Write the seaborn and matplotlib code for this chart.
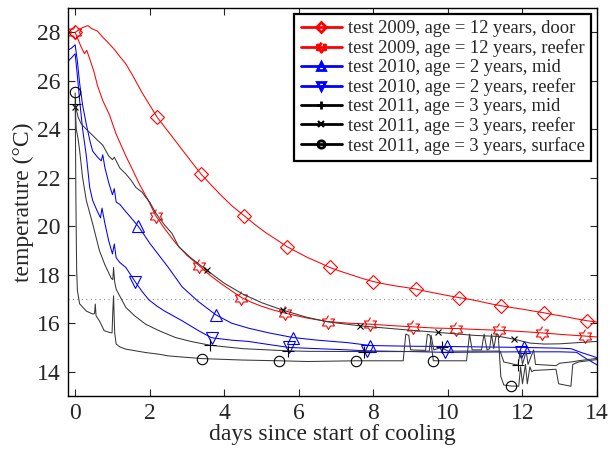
import numpy as np
import matplotlib
matplotlib.use('Agg')
import matplotlib.pyplot as plt
import seaborn as sns
from matplotlib.lines import Line2D
from matplotlib.path import Path

# test 2009, door
door_t = [0, 0.1, 0.2, 0.34, 0.45, 0.6, 0.74, 0.9, 1.05, 1.2, 1.36, 1.55, 1.8, 2.0, 2.2, 2.5, 2.8, 3.1,
          3.37, 3.65, 3.9, 4.2, 4.53, 4.8, 5.1, 5.4, 5.68, 6.0, 6.25, 6.55, 6.83, 7.1, 7.4, 7.7, 7.99, 8.3,
          8.55, 8.85, 9.14, 9.4, 9.7, 10.0, 10.29, 10.6, 10.85, 11.15, 11.43, 11.7, 12.0, 12.3, 12.57,
          12.85, 13.15, 13.45, 13.74, 14.0]
door_temp = [28.0, 28.1, 28.2, 28.28, 28.15, 28.05, 27.8, 27.55, 27.3, 27.0, 26.7, 26.2, 25.5, 25.0, 24.5,
             23.9, 23.3, 22.7, 22.17, 21.7, 21.3, 20.85, 20.44, 20.1, 19.75, 19.45, 19.16, 18.9, 18.7, 18.5,
             18.3, 18.15, 18.0, 17.85, 17.72, 17.62, 17.55, 17.48, 17.41, 17.32, 17.23, 17.14, 17.06, 16.98,
             16.9, 16.8, 16.72, 16.65, 16.58, 16.5, 16.43, 16.35, 16.27, 16.18, 16.1, 16.05]
door_mk_t = [0, 2.2, 3.37, 4.53, 5.68, 6.83, 7.99, 9.14, 10.29, 11.43, 12.57, 13.74]
door_mk_temp = [28.0, 24.5, 22.17, 20.44, 19.16, 18.3, 17.72, 17.41, 17.06, 16.72, 16.43, 16.1]

# test 2009, reefer
r09_t = [0, 0.08, 0.16, 0.25, 0.31, 0.39, 0.5, 0.6, 0.74, 0.92, 1.1, 1.36, 1.55, 1.72, 1.95, 2.16, 2.4,
         2.7, 3.0, 3.33, 3.6, 3.9, 4.2, 4.46, 4.75, 5.0, 5.3, 5.62, 5.9, 6.2, 6.5, 6.77, 7.35, 7.92, 8.5,
         9.07, 9.65, 10.23, 10.8, 11.38, 11.95, 12.53, 13.1, 13.68, 14.0]
r09_temp = [28.0, 27.7, 27.4, 27.12, 27.26, 26.91, 26.4, 25.8, 25.19, 24.6, 23.8, 22.9, 22.3, 21.75, 21.1,
            20.44, 19.9, 19.3, 18.8, 18.37, 18.0, 17.65, 17.33, 17.06, 16.85, 16.7, 16.55, 16.42, 16.32,
            16.22, 16.14, 16.07, 16.0, 15.96, 15.9, 15.85, 15.8, 15.78, 15.74, 15.71, 15.66, 15.6, 15.53,
            15.47, 15.43]
r09_mk_t = [0, 2.16, 3.33, 4.46, 5.62, 6.77, 7.92, 9.07, 10.23, 11.38, 12.53, 13.68]
r09_mk_temp = [28.0, 20.44, 18.37, 17.06, 16.42, 16.07, 15.96, 15.85, 15.78, 15.71, 15.6, 15.47]

# test 2010, mid
bmid_t = [-0.2, -0.1, 0, 0.06, 0.12, 0.2, 0.3, 0.4, 0.47, 0.6, 0.7, 0.74, 0.8, 0.9, 1.0, 1.05, 1.1, 1.2,
          1.36, 1.5, 1.69, 1.85, 2.0, 2.25, 2.5, 2.87, 3.3, 3.77, 4.2, 4.64, 5.2, 5.84, 6.5, 7.3, 7.92,
          9.0, 9.96, 11.0, 12.06, 13.0, 13.3, 13.6, 14.0]
bmid_temp = [27.26, 27.35, 27.49, 26.8, 25.9, 25.0, 24.2, 23.5, 23.1, 22.85, 22.7, 22.95, 22.4, 21.8, 21.3,
             21.55, 21.0, 20.9, 20.6, 20.35, 20.0, 19.65, 19.3, 18.8, 18.3, 17.5, 16.9, 16.35, 16.0, 15.8,
             15.6, 15.41, 15.3, 15.2, 15.08, 15.05, 15.04, 15.02, 15.0, 14.97, 14.95, 14.78, 14.58]
bmid_mk_t = [1.69, 3.77, 5.84, 7.92, 9.98, 12.05]
bmid_mk_temp = [20.0, 16.35, 15.41, 15.08, 15.04, 15.0]

# test 2010, reefer
bref_t = [-0.2, -0.1, 0, 0.06, 0.12, 0.2, 0.3, 0.39, 0.47, 0.6, 0.68, 0.72, 0.8, 0.9, 1.0, 1.05, 1.1, 1.2,
          1.36, 1.61, 1.8, 1.98, 2.2, 2.4, 2.87, 3.3, 3.66, 4.2, 4.64, 5.2, 5.74, 6.5, 7.3, 7.82, 9.0,
          9.91, 11.0, 11.97, 13.0, 13.45, 13.7, 14.0]
bref_temp = [26.8, 26.95, 27.12, 26.2, 25.19, 24.0, 22.9, 21.6, 21.06, 20.6, 20.35, 20.75, 20.1, 19.4, 18.86,
             19.27, 18.7, 18.5, 18.3, 17.71, 17.3, 16.96, 16.7, 16.5, 16.1, 15.7, 15.4, 15.3, 15.25, 15.12,
             15.0, 14.95, 14.9, 14.86, 14.83, 14.8, 14.81, 14.82, 14.82, 14.8, 14.55, 14.28]
bref_mk_t = [1.61, 3.66, 5.74, 7.82, 9.91, 11.97]
bref_mk_temp = [17.71, 15.4, 15.0, 14.86, 14.8, 14.81]

# test 2011, mid
kmid_t = [0, 0.03, 0.08, 0.12, 0.2, 0.3, 0.47, 0.65, 0.8, 0.97, 1.01, 1.03, 1.06, 1.1, 1.36, 1.6, 1.89,
          2.25, 2.69, 3.1, 3.62, 4.5, 5.7, 6.24, 7.74, 8.8, 9.5, 9.55, 9.62, 9.83, 10.0, 11.4, 11.5,
          11.88, 11.95, 12.0, 12.1, 12.15, 12.3, 12.35, 12.9, 13.0, 13.3, 13.5, 14.0]
kmid_temp = [25.0, 24.0, 23.6, 23.12, 22.0, 21.06, 20.1, 19.0, 18.4, 17.85, 17.8, 18.3, 17.7, 17.4, 16.65,
             16.3, 15.96, 15.69, 15.41, 15.25, 15.09, 14.95, 14.86, 14.84, 14.83, 14.83, 14.85, 15.5, 14.9,
             15.0, 14.85, 14.85, 14.4, 14.27, 14.9, 14.3, 14.85, 14.3, 14.9, 14.3, 14.25, 14.35, 14.4,
             14.45, 14.55]
kmid_mk_t = [0, 3.62, 5.7, 7.74, 9.83, 11.88]
kmid_mk_temp = [25.05, 15.09, 14.86, 14.83, 15.0, 14.27]

# test 2011, reefer
kref_t = [0, 0.08, 0.16, 0.3, 0.47, 0.6, 0.74, 0.9, 1.0, 1.05, 1.2, 1.36, 1.5, 1.63, 1.8, 1.89, 2.0, 2.16,
          2.4, 2.6, 2.78, 3.1, 3.53, 4.0, 4.5, 5.0, 5.57, 6.2, 6.8, 7.65, 8.7, 9.74, 10.7, 11.4, 11.78,
          12.2, 12.6, 13.0, 13.5, 14.0]
kref_temp = [25.0, 24.5, 24.23, 24.0, 23.75, 23.55, 23.35, 22.9, 22.75, 22.85, 22.4, 22.16, 21.9, 21.6,
             21.4, 21.2, 21.0, 20.55, 20.05, 19.7, 19.15, 18.7, 18.19, 17.65, 17.2, 16.85, 16.54, 16.25,
             16.05, 15.89, 15.75, 15.62, 15.5, 15.45, 15.34, 15.18, 15.14, 15.15, 15.2, 15.25]
kref_mk_t = [0, 3.53, 5.57, 7.65, 9.74, 11.78]
kref_mk_temp = [24.91, 18.19, 16.54, 15.89, 15.62, 15.34]

# test 2011, surface
ksrf_t = [0, 0.02, 0.04, 0.06, 0.12, 0.3, 0.47, 0.52, 0.54, 0.56, 0.65, 0.78, 0.92, 0.99, 1.01, 1.03, 1.06,
          1.10, 1.2, 1.36, 1.89, 2.25, 2.51, 3.4, 4.5, 5.47, 6.24, 7.54, 8.8, 8.87, 8.95, 9.0, 9.4, 9.45,
          9.52, 9.61, 10.5, 10.58, 10.65, 10.9, 10.97, 11.05, 11.12, 11.17, 11.23, 11.3, 11.35, 11.42,
          11.5, 11.69, 11.9, 11.95, 12.0, 12.08, 12.13, 12.2, 12.25, 12.3, 12.9, 12.97, 13.3, 13.35,
          13.5, 14.0]
ksrf_temp = [25.5, 21.0, 18.2, 17.34, 16.8, 16.5, 16.38, 16.4, 16.79, 16.31, 16.1, 15.69, 15.62, 15.6,
             16.5, 17.13, 15.6, 15.14, 15.02, 14.93, 14.79, 14.72, 14.65, 14.54, 14.48, 14.45, 14.42,
             14.45, 14.45, 15.55, 15.5, 14.9, 14.88, 15.55, 15.5, 14.45, 14.45, 15.55, 14.9, 14.9, 15.55,
             14.9, 14.95, 15.55, 14.95, 15.55, 15.5, 13.8, 13.45, 13.41, 13.4, 14.2, 13.5, 14.3, 13.5,
             14.2, 14.0, 14.05, 14.1, 13.5, 13.4, 14.3, 14.4, 14.5]
ksrf_mk_t = [0, 3.4, 5.47, 7.54, 9.61, 11.69]
ksrf_mk_temp = [25.53, 14.54, 14.45, 14.45, 14.45, 13.41]

labels = ['test 2009, age = 12 years, door',
          'test 2009, age = 12 years, reefer',
          'test 2010, age = 2 years, mid',
          'test 2010, age = 2 years, reefer',
          'test 2011, age = 3 years, mid',
          'test 2011, age = 3 years, reefer',
          'test 2011, age = 3 years, surface']

# six-pointed star like matlab 'hexagram'
ang = np.deg2rad(np.arange(12) * 30 + 90)
rad = np.where(np.arange(12) % 2 == 0, 1.0, 0.577)
hexa = Path(np.column_stack([rad * np.cos(ang), rad * np.sin(ang)]))

sns.set_theme(style='ticks')
plt.rcParams['font.family'] = ['Liberation Serif', 'DejaVu Serif']

fig = plt.figure(figsize=(6.1, 4.53), dpi=100)
ax = fig.add_axes([0.111, 0.126, 0.8677, 0.856])

series = [
    (door_t, door_temp, door_mk_t, door_mk_temp, 'red', 'D', 7),
    (r09_t, r09_temp, r09_mk_t, r09_mk_temp, 'red', hexa, 10),
    (bmid_t, bmid_temp, bmid_mk_t, bmid_mk_temp, 'blue', '^', 9),
    (bref_t, bref_temp, bref_mk_t, bref_mk_temp, 'blue', 'v', 9),
    (kmid_t, kmid_temp, kmid_mk_t, kmid_mk_temp, 'black', '+', 9),
    (kref_t, kref_temp, kref_mk_t, kref_mk_temp, 'black', 'x', 5),
    (ksrf_t, ksrf_temp, ksrf_mk_t, ksrf_mk_temp, 'black', 'o', 7.5),
]

ax.axhline(17, color='0.55', lw=0.8, ls=(0, (1, 3)), zorder=1)

handles = []
for (t, y, mt, my, c, m, ms), lab in zip(series, labels):
    lc = '#383838' if c == 'black' else c
    sns.lineplot(x=t, y=y, color=lc, lw=0.75, sort=False, estimator=None, ax=ax)
    ax.plot(mt, my, ls='none', marker=m, ms=ms, mfc='none', mec=c, mew=0.8)
    lms, lmew = (5, 1.5) if m == 'x' else (ms * 0.7, 2)
    handles.append(Line2D([], [], color=c, lw=2, marker=m, ms=lms, mfc='none', mec=c, mew=lmew,
                          label=lab))

ax.set_xlim(-0.2, 14)
ax.set_ylim(13, 29)
ax.set_xticks(range(0, 15, 2))
ax.set_yticks(range(14, 29, 2))
ax.tick_params(direction='in', top=True, right=True, length=5, width=0.8, labelsize=17, pad=5)
for s in ax.spines.values():
    s.set_linewidth(1.0)
    s.set_color('black')
ax.set_xlabel('days since start of cooling', fontsize=17, labelpad=0)
ax.set_ylabel('temperature (°C)', fontsize=17, labelpad=2)

leg = ax.legend(handles=handles, loc='upper right', fontsize=13.3, frameon=True, fancybox=False,
                edgecolor='black', framealpha=1, borderaxespad=0.3, handlelength=2.25,
                labelspacing=0.11, handletextpad=0.32, borderpad=0.35)
leg.get_frame().set_linewidth(1.6)

fig.savefig('out.png', dpi=100)
